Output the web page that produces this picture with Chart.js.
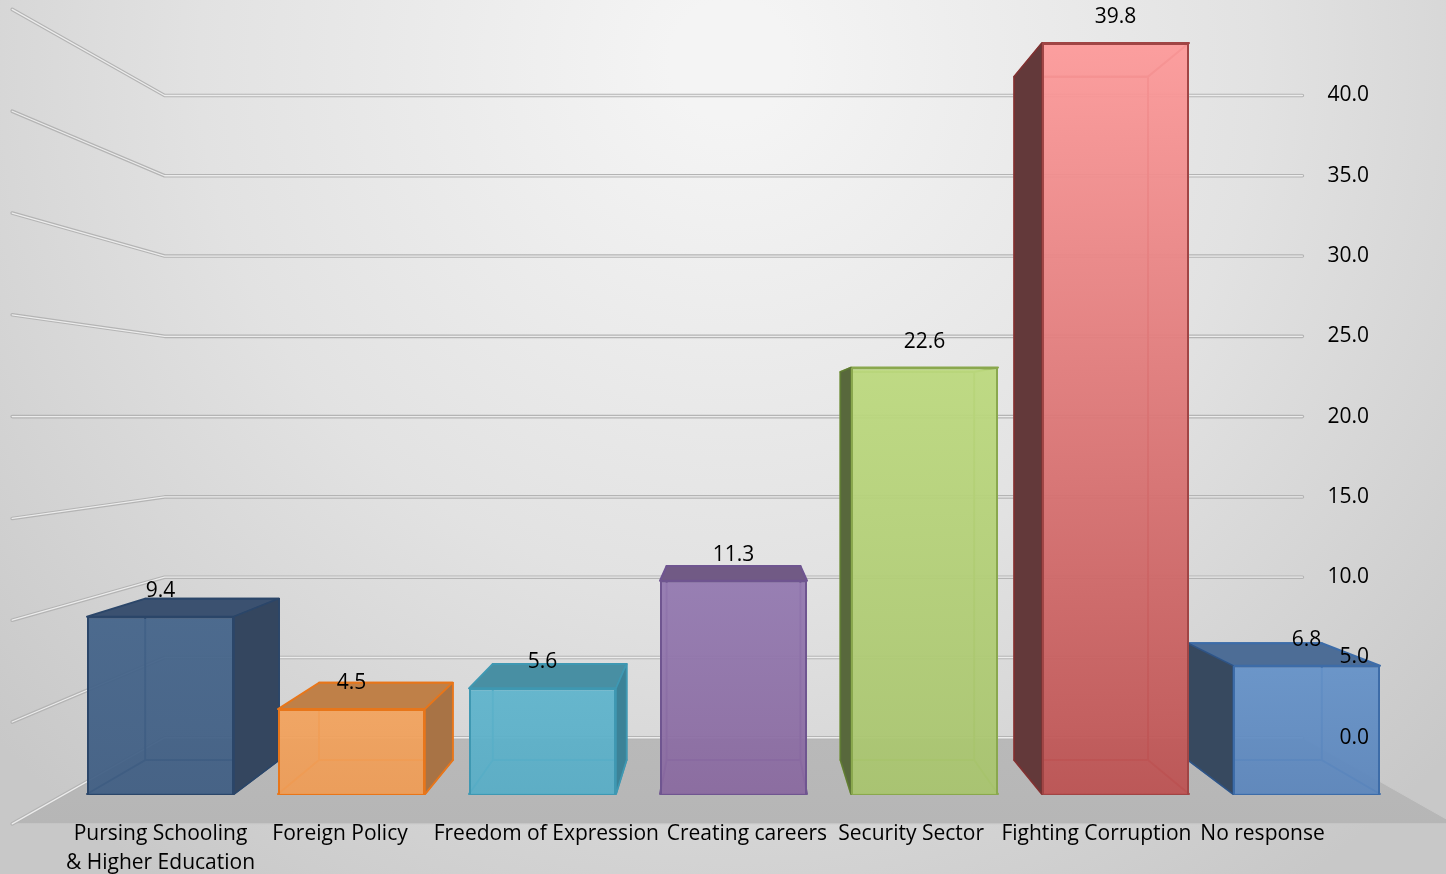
<!DOCTYPE html>
<html>
<head>
<meta charset="utf-8">
<title>Priorities</title>
<script src="https://cdn.jsdelivr.net/npm/chart.js@4"></script>
<style>
  html, body { margin: 0; padding: 0; background: #d0d0d0; overflow: hidden; }
  #box { width: 1446px; height: 874px; }
</style>
</head>
<body>
<div id="box"><canvas id="myChart"></canvas></div>
<script>
const categories = [
  ["Pursing Schooling", "& Higher Education"],
  "Foreign Policy",
  "Freedom of Expression",
  "Creating careers",
  "Security Sector",
  "Fighting Corruption",
  "No response"
]
const values = [9.4, 4.5, 5.6, 11.3, 22.6, 39.8, 6.8]
const tickValues = [0, 5, 10, 15, 20, 25, 30, 35, 40]

// the category text does not sit under the bars in the original
const labelSlots = [0, 0.94, 2.02, 3.07, 3.93, 4.9, 5.77]

const frontTop = ["#44648a", "#f2a35e", "#5fb4cc", "#9379b0", "#bcd97e", "#fd9a9a", "#6592c8"]
const frontBottom = ["#405e83", "#ee9c56", "#58adc6", "#89699f", "#a8c46e", "#bc5252", "#5c86bc"]
const edges = ["#2b4669", "#e8761a", "#3f98b2", "#6f5590", "#8aa84e", "#a04545", "#3d6ca8"]
const sideEdges = ["#2b4669", "#e8761a", "#3f98b2", "#6f5590", "#5f7a35", "#7c3232", "#2f5383"]
const sides = ["#34465f", "#a87345", "#3c8297", "#5f4a78", "#58683c", "#63393a", "#37495f"]
const tops = ["#3b5170", "#bf8048", "#488fa3", "#715a85", "#a8c470", "#f59494", "#4d6d96"]

const barDepth = 0.91
const wallDepth = 0.851
const edgeDepth = 1.079
const frontMax = 42.08

const fontName = "'Open Sans', sans-serif"

function project(chart, x, y, k) {
  const area = chart.chartArea
  const cx = (area.left + area.right) / 2
  const cy = chart.scales.yFront.getPixelForValue(20)
  return [cx + (x - cx) * k, cy + (y - cy) * k]
}

function polygon(ctx, pts, fill, stroke) {
  ctx.beginPath()
  pts.forEach((p, i) => i ? ctx.lineTo(p[0], p[1]) : ctx.moveTo(p[0], p[1]))
  ctx.closePath()
  if (fill) { ctx.fillStyle = fill; ctx.fill() }
  if (stroke) { ctx.strokeStyle = stroke; ctx.stroke() }
}

const room = {
  id: "room",
  beforeDraw(chart) {
    const ctx = chart.ctx
    const area = chart.chartArea
    const front = chart.scales.yFront
    const bg = ctx.createRadialGradient(730, 60, 60, 730, 60, 1000)
    bg.addColorStop(0, "#f4f4f4")
    bg.addColorStop(0.5, "#e2e2e2")
    bg.addColorStop(1, "#c8c8c8")
    ctx.save()
    ctx.fillStyle = bg
    ctx.fillRect(0, 0, chart.width, chart.height)

    // floor
    const base = front.getPixelForValue(0)
    const a = project(chart, area.left, base, wallDepth)
    const b = project(chart, area.right, base, wallDepth)
    const c = project(chart, area.right, base, edgeDepth)
    const d = project(chart, area.left, base, edgeDepth)
    const floor = ctx.createLinearGradient(0, a[1], 0, d[1])
    floor.addColorStop(0, "#b9b9b9")
    floor.addColorStop(1, "#b6b6b6")
    ctx.lineWidth = 1
    polygon(ctx, [a, b, c, d], floor, "#c9c9c9")

    // grid lines on the back wall and the left wall
    tickValues.forEach(v => {
      const y = front.getPixelForValue(v)
      const p0 = project(chart, area.left, y, edgeDepth)
      const p1 = project(chart, area.left, y, wallDepth)
      const p2 = project(chart, area.right, y, wallDepth)
      ctx.beginPath()
      ctx.moveTo(p0[0], p0[1])
      ctx.lineTo(p1[0], p1[1])
      ctx.lineTo(p2[0], p2[1])
      ctx.lineCap = "round"
      ctx.lineJoin = "round"
      ctx.lineWidth = 3.6
      ctx.strokeStyle = "#b4b4b4"
      ctx.stroke()
      ctx.lineWidth = 1.3
      ctx.strokeStyle = "#ececec"
      ctx.stroke()
    })
    ctx.restore()
  }
}

const boxes = {
  id: "boxes",
  beforeDatasetsDraw(chart) {
    const ctx = chart.ctx
    const bars = chart.getDatasetMeta(0).data
    ctx.save()
    ctx.lineJoin = "round"
    bars.forEach((bar, i) => {
      const left = bar.x - bar.width / 2
      const right = bar.x + bar.width / 2
      const topY = bar.y
      const baseY = bar.base
      const bl = project(chart, left, topY, barDepth)
      const br = project(chart, right, topY, barDepth)
      const bb = project(chart, left, baseY, barDepth)
      const bc = project(chart, right, baseY, barDepth)

      ctx.lineWidth = 2
      polygon(ctx, [[left, baseY], [right, baseY], bc, bb], null, edges[i])
      polygon(ctx, [bl, br, bc, bb], null, edges[i])
      if (bl[1] < topY) {
        polygon(ctx, [[left, topY], [right, topY], br, bl], tops[i], edges[i])
      } else {
        polygon(ctx, [[left, topY], [right, topY], br, bl], null, edges[i])
      }
      ctx.lineWidth = 1.5
      if (bl[0] < left) {
        polygon(ctx, [[left, topY], bl, bb, [left, baseY]], sides[i], sideEdges[i])
      }
      if (br[0] > right) {
        polygon(ctx, [[right, topY], br, bc, [right, baseY]], sides[i], sideEdges[i])
      }
    })
    ctx.restore()
  },
  afterDatasetsDraw(chart) {
    const ctx = chart.ctx
    const bars = chart.getDatasetMeta(0).data
    ctx.save()
    ctx.font = "21px " + fontName
    ctx.fillStyle = "#000"
    ctx.textAlign = "center"
    ctx.textBaseline = "middle"
    bars.forEach((bar, i) => {
      ctx.fillText(values[i].toFixed(1), bar.x, bar.y - 26)
    })
    ctx.restore()
  }
}

function barFill(c) {
  const i = c.dataIndex
  if (i === undefined || !c.chart.chartArea) return frontTop[0]
  const scale = c.chart.scales.yFront
  const g = c.chart.ctx.createLinearGradient(0, scale.getPixelForValue(values[i]), 0, scale.getPixelForValue(0))
  g.addColorStop(0, frontTop[i] + "f0")
  g.addColorStop(1, frontBottom[i] + "f0")
  return g
}

new Chart(document.getElementById("myChart"), {
  type: "bar",
  data: {
    labels: categories.map(c => Array.isArray(c) ? c.join(" ") : c),
    datasets: [{
      data: values,
      yAxisID: "yFront",
      xAxisID: "x",
      backgroundColor: barFill,
      borderColor: edges,
      borderWidth: 2,
      barPercentage: 147 / 191,
      categoryPercentage: 1
    }]
  },
  plugins: [room, boxes],
  options: {
    responsive: true,
    maintainAspectRatio: false,
    animation: false,
    layout: { padding: { left: 65, right: 0, top: 0, bottom: 0 } },
    plugins: { legend: { display: false }, tooltip: { enabled: false } },
    scales: {
      x: { display: false },
      yFront: { display: false, min: 0, max: frontMax },
      xText: {
        type: "linear",
        position: "bottom",
        offset: false,
        min: -0.5,
        max: 6.5,
        grid: { display: false, drawTicks: false },
        border: { display: false },
        afterBuildTicks: s => { s.ticks = labelSlots.map(v => ({ value: v })) },
        afterFit: s => { s.height = 80; s.paddingLeft = 0; s.paddingRight = 0 },
        ticks: {
          autoSkip: false,
          maxRotation: 0,
          padding: 26,
          color: "#000",
          font: { family: fontName, size: 21, lineHeight: 1.38 },
          callback: (v, i) => categories[i]
        }
      },
      y: {
        position: "right",
        min: 20 - 20 / wallDepth,
        max: 20 + (frontMax - 20) / wallDepth,
        grid: { display: false, drawTicks: false },
        border: { display: false },
        afterBuildTicks: s => { s.ticks = tickValues.map(v => ({ value: v })) },
        afterFit: s => { s.width = 44; s.paddingTop = 0; s.paddingBottom = 0 },
        ticks: {
          mirror: true,
          z: 1,
          padding: -33,
          color: "#000",
          font: { family: fontName, size: 21 },
          callback: v => v.toFixed(1)
        }
      }
    }
  }
})
</script>
</body>
</html>
